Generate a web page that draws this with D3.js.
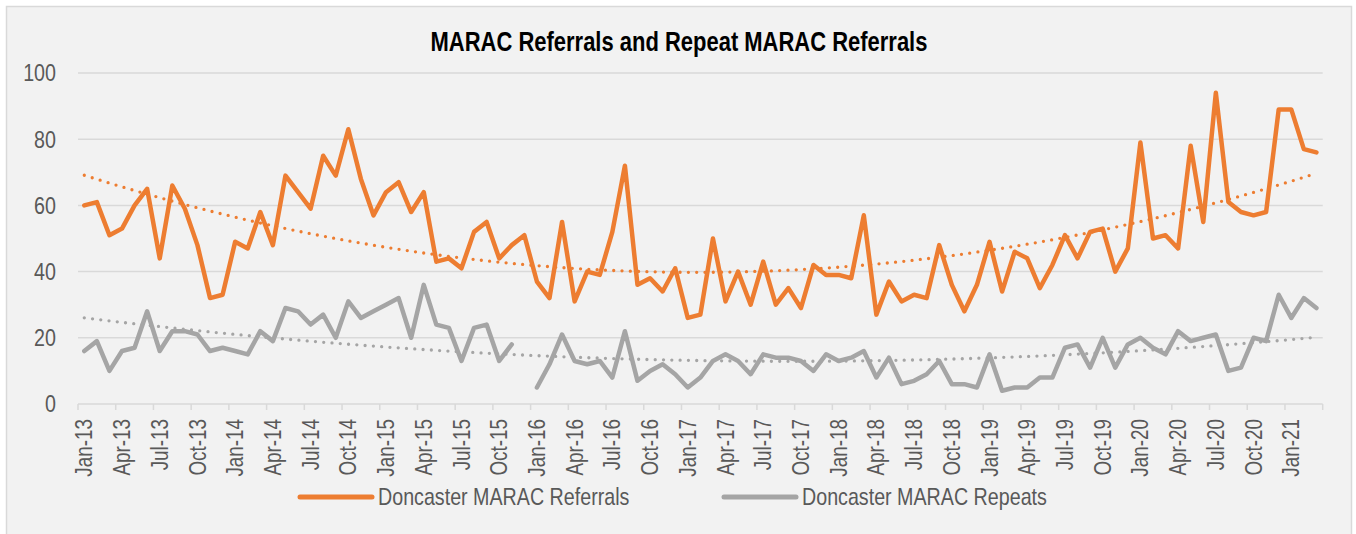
<!DOCTYPE html>
<meta charset="utf-8">
<style>
  body { margin: 0; background: #ffffff; }
  text { font-family: "Liberation Sans Narrow", "Arial Narrow", "Liberation Sans", Arial, sans-serif; }
</style>

<script src="https://d3js.org/d3.v7.min.js"></script>

<div id="my_dataviz"></div>

<script>

// monthly categories, Jan-13 to Mar-21
var months = d3.timeMonth.range(new Date(2013, 0, 1), new Date(2021, 3, 1));
var formatMonth = d3.timeFormat("%b-%y");

var seriesNames = ["Doncaster MARAC Referrals", "Doncaster MARAC Repeats"];

var referrals = [
  60, 61, 51, 53, 60, 65, 44, 66, 59, 48, 32, 33,
  49, 47, 58, 48, 69, 64, 59, 75, 69, 83, 68, 57,
  64, 67, 58, 64, 43, 44, 41, 52, 55, 44, 48, 51,
  37, 32, 55, 31, 40, 39, 52, 72, 36, 38, 34, 41,
  26, 27, 50, 31, 40, 30, 43, 30, 35, 29, 42, 39,
  39, 38, 57, 27, 37, 31, 33, 32, 48, 36, 28, 36,
  49, 34, 46, 44, 35, 42, 51, 44, 52, 53, 40, 47,
  79, 50, 51, 47, 78, 55, 94, 61, 58, 57, 58, 89,
  89, 77, 76
];

var repeats = [
  16, 19, 10, 16, 17, 28, 16, 22, 22, 21, 16, 17,
  16, 15, 22, 19, 29, 28, 24, 27, 20, 31, 26, 28,
  30, 32, 20, 36, 24, 23, 13, 23, 24, 13, 18, null,
  5, 12, 21, 13, 12, 13, 8, 22, 7, 10, 12, 9,
  5, 8, 13, 15, 13, 9, 15, 14, 14, 13, 10, 15,
  13, 14, 16, 8, 14, 6, 7, 9, 13, 6, 6, 5,
  15, 4, 5, 5, 8, 8, 17, 18, 11, 20, 11, 18,
  20, 17, 15, 22, 19, 20, 21, 10, 11, 20, 19, 33,
  26, 32, 29
];

var yTicks = [0, 20, 40, 60, 80, 100];

var colors = ["#ED7D31", "#A5A5A5"];

// canvas
var W = 1356, H = 534;
var margin = {top: 73, left: 78, right: 1322.7, bottom: 404};

var svg = d3.select("#my_dataviz")
  .append("svg")
    .attr("width", W)
    .attr("height", H);

// chart area box
svg.append("rect")
  .attr("x", 6.5).attr("y", 6.5)
  .attr("width", 1345).attr("height", 540)
  .attr("fill", "#f2f2f2")
  .attr("stroke", "#d9d9d9")
  .attr("stroke-width", 1.5);

// x: one band per month
var x = d3.scaleBand()
  .domain(d3.range(months.length))
  .range([margin.left, margin.right]);

var y = d3.scaleLinear()
  .domain([0, 100])
  .range([margin.bottom, margin.top]);

// gridlines
svg.append("g")
  .selectAll("line")
  .data(yTicks.slice(1))
  .enter()
  .append("line")
    .attr("x1", margin.left)
    .attr("x2", margin.right)
    .attr("y1", function(d) { return y(d); })
    .attr("y2", function(d) { return y(d); })
    .attr("stroke", "#d9d9d9")
    .attr("stroke-width", 1.5);

// y labels
svg.append("g")
  .selectAll("text")
  .data(yTicks)
  .enter()
  .append("text")
    .attr("x", 56)
    .attr("y", function(d) { return y(d); })
    .attr("dy", "0.35em")
    .attr("text-anchor", "end")
    .attr("font-size", 24)
    .attr("fill", "#595959")
    .text(function(d) { return d; });

// x axis line + tick marks between categories every 3 months
svg.append("line")
  .attr("x1", margin.left).attr("x2", margin.right)
  .attr("y1", y(0)).attr("y2", y(0))
  .attr("stroke", "#d9d9d9")
  .attr("stroke-width", 1.5);

var tickIdx = d3.range(0, months.length + 1, 3);
svg.append("g")
  .selectAll("line")
  .data(tickIdx)
  .enter()
  .append("line")
    .attr("x1", function(d) { return margin.left + d * x.step(); })
    .attr("x2", function(d) { return margin.left + d * x.step(); })
    .attr("y1", y(0))
    .attr("y2", y(0) + 6)
    .attr("stroke", "#d9d9d9")
    .attr("stroke-width", 1.5);

// x labels (every 3rd month), rotated
svg.append("g")
  .selectAll("text")
  .data(d3.range(0, months.length, 3))
  .enter()
  .append("text")
    .attr("transform", function(d) {
      return "translate(" + (x(d) + x.bandwidth() / 2) + "," + 419 + ") rotate(-90)";
    })
    .attr("dy", "0.35em")
    .attr("text-anchor", "end")
    .attr("font-size", 23)
    .attr("fill", "#595959")
    .text(function(d) { return formatMonth(months[d]); });

// quadratic least squares trend (as excel's polynomial order 2)
function quadFit(vals) {
  var S = [0, 0, 0, 0, 0], T = [0, 0, 0];
  vals.forEach(function(v, i) {
    if (v == null) return;
    var t = i + 1;
    for (var k = 0; k < 5; k++) S[k] += Math.pow(t, k);
    for (var k = 0; k < 3; k++) T[k] += v * Math.pow(t, k);
  });
  var A = [[S[0], S[1], S[2], T[0]], [S[1], S[2], S[3], T[1]], [S[2], S[3], S[4], T[2]]];
  for (var c = 0; c < 3; c++) {
    for (var r = c + 1; r < 3; r++) {
      var f = A[r][c] / A[c][c];
      for (var k = c; k < 4; k++) A[r][k] -= f * A[c][k];
    }
  }
  var b = [0, 0, 0];
  for (var r = 2; r >= 0; r--) {
    var s = A[r][3];
    for (var k = r + 1; k < 3; k++) s -= A[r][k] * b[k];
    b[r] = s / A[r][r];
  }
  return vals.map(function(v, i) { var t = i + 1; return b[0] + b[1] * t + b[2] * t * t; });
}

var cx = function(d, i) { return x(i) + x.bandwidth() / 2; };

var line = d3.line()
  .defined(function(d) { return d != null; })
  .x(cx)
  .y(function(d) { return y(d); });

[referrals, repeats].forEach(function(vals, s) {
  svg.append("path")
    .datum(quadFit(vals))
    .attr("fill", "none")
    .attr("stroke", colors[s])
    .attr("stroke-width", 3.3)
    .attr("stroke-linecap", "round")
    .attr("stroke-dasharray", "0 8.3")
    .attr("d", d3.line().x(cx).y(function(d) { return y(d); }));
});

[repeats, referrals].forEach(function(vals) {
  var s = vals === referrals ? 0 : 1;
  svg.append("path")
    .datum(vals)
    .attr("fill", "none")
    .attr("stroke", colors[s])
    .attr("stroke-width", 4.5)
    .attr("stroke-linejoin", "round")
    .attr("stroke-linecap", "round")
    .attr("d", line);
});

// title
svg.append("text")
  .attr("x", 679)
  .attr("y", 51)
  .attr("text-anchor", "middle")
  .attr("font-size", 26.8)
  .attr("font-weight", "bold")
  .attr("fill", "#000000")
  .text("MARAC Referrals and Repeat MARAC Referrals");

// legend
var legendX = [300, 724];
var legend = svg.append("g")
  .selectAll("g")
  .data(seriesNames)
  .enter()
  .append("g")
    .attr("transform", function(d, i) { return "translate(" + legendX[i] + ",497)"; });

legend.append("line")
  .attr("x1", 0).attr("x2", 72)
  .attr("stroke", function(d, i) { return colors[i]; })
  .attr("stroke-width", 5)
  .attr("stroke-linecap", "round");

legend.append("text")
  .attr("x", 78)
  .attr("dy", "0.35em")
  .attr("font-size", 24)
  .attr("fill", "#595959")
  .text(function(d) { return d; });

// if no narrow face is installed, squeeze the texts horizontally
var probe = svg.append("text").attr("font-size", 100).text("Doncaster");
var w1 = probe.node().getComputedTextLength();
probe.style("font-family", "'Liberation Sans', Arial, sans-serif");
var w2 = probe.node().getComputedTextLength();
probe.remove();
if (w1 / w2 > 0.95) {
  svg.selectAll("text").each(function() {
    var t = d3.select(this);
    var anchor = t.attr("text-anchor") || "start";
    var bb = this.getBBox();
    var ax = anchor == "end" ? bb.x + bb.width : anchor == "middle" ? bb.x + bb.width / 2 : bb.x;
    var old = t.attr("transform") || "";
    t.attr("transform", old + " translate(" + ax + ",0) scale(0.82,1) translate(" + (-ax) + ",0)");
  });
}

</script>
